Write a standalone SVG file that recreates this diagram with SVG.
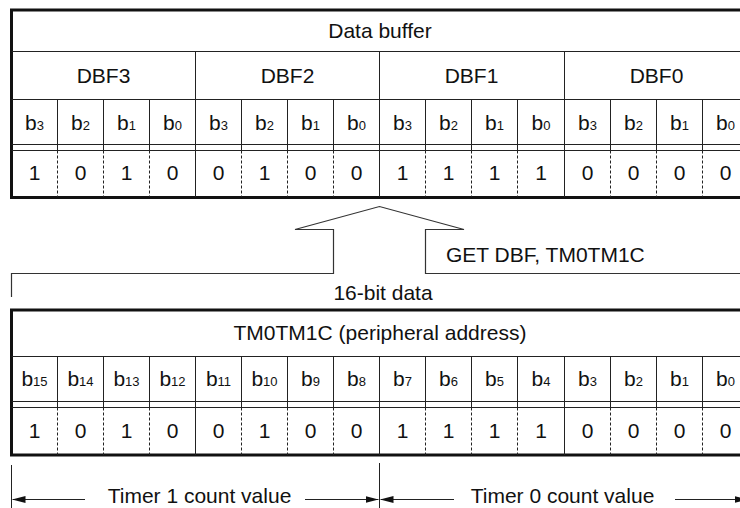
<svg xmlns="http://www.w3.org/2000/svg" width="740" height="508" viewBox="0 0 740 508">
<style>
text{font-family:"Liberation Sans",Arial,sans-serif;fill:#111;}
.lbl{font-size:21px;text-anchor:middle;}
.st{font-size:21px;}
.sub{font-size:13px;}
.frame{fill:#fff;stroke:#111;stroke-width:3;}
.ln{stroke:#222;stroke-width:1;fill:none;}
.dash{stroke:#222;stroke-width:1;stroke-dasharray:3 2;fill:none;}
.conn{stroke:#333;stroke-width:1.2;fill:none;}
</style>
<defs>
<marker id="ah" markerUnits="userSpaceOnUse" viewBox="0 0 13 7" markerWidth="13" markerHeight="7" refX="13" refY="3.5" orient="auto">
<path d="M0,0 L13,3.5 L0,7 Z" fill="#111"/>
</marker>
</defs>
<rect width="740" height="508" fill="#fff"/>

<g id="data-buffer">
<rect class="frame" x="11.5" y="10" width="737" height="187.5"/>
<path class="ln" d="M11.5,51.5H748.5M11.5,99.5H748.5M11.5,144.5H748.5M11.5,150.5H748.5"/>
<path class="ln" d="M195.5,51.5V197M379.5,51.5V197M564.5,51.5V197"/>
<path class="ln" d="M57.5,99.5V150.5M103.5,99.5V150.5M149.5,99.5V150.5M241.5,99.5V150.5M287.5,99.5V150.5M333.5,99.5V150.5M425.5,99.5V150.5M471.5,99.5V150.5M517.5,99.5V150.5M610.5,99.5V150.5M656.5,99.5V150.5M702.5,99.5V150.5"/>
<path class="dash" d="M57.5,150.5V197M103.5,150.5V197M149.5,150.5V197M241.5,150.5V197M287.5,150.5V197M333.5,150.5V197M425.5,150.5V197M471.5,150.5V197M517.5,150.5V197M610.5,150.5V197M656.5,150.5V197M702.5,150.5V197"/>
<text class="lbl" x="380" y="38">Data buffer</text>
<text class="lbl" x="103.5" y="83">DBF3</text>
<text class="lbl" x="287.5" y="83">DBF2</text>
<text class="lbl" x="471.5" y="83">DBF1</text>
<text class="lbl" x="656.5" y="83">DBF0</text>
<g class="lbl">
<text class="lbl" x="34.5" y="130">b<tspan class="sub">3</tspan></text>
<text class="lbl" x="80.5" y="130">b<tspan class="sub">2</tspan></text>
<text class="lbl" x="126.5" y="130">b<tspan class="sub">1</tspan></text>
<text class="lbl" x="172.5" y="130">b<tspan class="sub">0</tspan></text>
<text class="lbl" x="218.5" y="130">b<tspan class="sub">3</tspan></text>
<text class="lbl" x="264.5" y="130">b<tspan class="sub">2</tspan></text>
<text class="lbl" x="310.5" y="130">b<tspan class="sub">1</tspan></text>
<text class="lbl" x="356.5" y="130">b<tspan class="sub">0</tspan></text>
<text class="lbl" x="402.5" y="130">b<tspan class="sub">3</tspan></text>
<text class="lbl" x="448.5" y="130">b<tspan class="sub">2</tspan></text>
<text class="lbl" x="494.5" y="130">b<tspan class="sub">1</tspan></text>
<text class="lbl" x="541" y="130">b<tspan class="sub">0</tspan></text>
<text class="lbl" x="587.5" y="130">b<tspan class="sub">3</tspan></text>
<text class="lbl" x="633.5" y="130">b<tspan class="sub">2</tspan></text>
<text class="lbl" x="679.5" y="130">b<tspan class="sub">1</tspan></text>
<text class="lbl" x="725.5" y="130">b<tspan class="sub">0</tspan></text>
</g>
<text class="lbl" x="34.5" y="180">1</text>
<text class="lbl" x="80.5" y="180">0</text>
<text class="lbl" x="126.5" y="180">1</text>
<text class="lbl" x="172.5" y="180">0</text>
<text class="lbl" x="218.5" y="180">0</text>
<text class="lbl" x="264.5" y="180">1</text>
<text class="lbl" x="310.5" y="180">0</text>
<text class="lbl" x="356.5" y="180">0</text>
<text class="lbl" x="402.5" y="180">1</text>
<text class="lbl" x="448.5" y="180">1</text>
<text class="lbl" x="494.5" y="180">1</text>
<text class="lbl" x="541" y="180">1</text>
<text class="lbl" x="587.5" y="180">0</text>
<text class="lbl" x="633.5" y="180">0</text>
<text class="lbl" x="679.5" y="180">0</text>
<text class="lbl" x="725.5" y="180">0</text>
</g>

<g id="tm0tm1c">
<rect class="frame" x="11.5" y="310" width="737" height="145"/>
<path class="ln" d="M11.5,356.5H748.5M11.5,401.5H748.5M11.5,407.5H748.5"/>
<path class="ln" d="M195.5,356.5V455M379.5,356.5V455M564.5,356.5V455"/>
<path class="ln" d="M57.5,356.5V407.5M103.5,356.5V407.5M149.5,356.5V407.5M241.5,356.5V407.5M287.5,356.5V407.5M333.5,356.5V407.5M425.5,356.5V407.5M471.5,356.5V407.5M517.5,356.5V407.5M610.5,356.5V407.5M656.5,356.5V407.5M702.5,356.5V407.5"/>
<path class="dash" d="M57.5,407.5V455M103.5,407.5V455M149.5,407.5V455M241.5,407.5V455M287.5,407.5V455M333.5,407.5V455M425.5,407.5V455M471.5,407.5V455M517.5,407.5V455M610.5,407.5V455M656.5,407.5V455M702.5,407.5V455"/>
<text class="lbl" x="380" y="340">TM0TM1C (peripheral address)</text>
<text class="lbl" x="34.5" y="386">b<tspan class="sub">15</tspan></text>
<text class="lbl" x="80.5" y="386">b<tspan class="sub">14</tspan></text>
<text class="lbl" x="126.5" y="386">b<tspan class="sub">13</tspan></text>
<text class="lbl" x="172.5" y="386">b<tspan class="sub">12</tspan></text>
<text class="lbl" x="218.5" y="386">b<tspan class="sub">11</tspan></text>
<text class="lbl" x="264.5" y="386">b<tspan class="sub">10</tspan></text>
<text class="lbl" x="310.5" y="386">b<tspan class="sub">9</tspan></text>
<text class="lbl" x="356.5" y="386">b<tspan class="sub">8</tspan></text>
<text class="lbl" x="402.5" y="386">b<tspan class="sub">7</tspan></text>
<text class="lbl" x="448.5" y="386">b<tspan class="sub">6</tspan></text>
<text class="lbl" x="494.5" y="386">b<tspan class="sub">5</tspan></text>
<text class="lbl" x="541" y="386">b<tspan class="sub">4</tspan></text>
<text class="lbl" x="587.5" y="386">b<tspan class="sub">3</tspan></text>
<text class="lbl" x="633.5" y="386">b<tspan class="sub">2</tspan></text>
<text class="lbl" x="679.5" y="386">b<tspan class="sub">1</tspan></text>
<text class="lbl" x="725.5" y="386">b<tspan class="sub">0</tspan></text>
<text class="lbl" x="34.5" y="438">1</text>
<text class="lbl" x="80.5" y="438">0</text>
<text class="lbl" x="126.5" y="438">1</text>
<text class="lbl" x="172.5" y="438">0</text>
<text class="lbl" x="218.5" y="438">0</text>
<text class="lbl" x="264.5" y="438">1</text>
<text class="lbl" x="310.5" y="438">0</text>
<text class="lbl" x="356.5" y="438">0</text>
<text class="lbl" x="402.5" y="438">1</text>
<text class="lbl" x="448.5" y="438">1</text>
<text class="lbl" x="494.5" y="438">1</text>
<text class="lbl" x="541" y="438">1</text>
<text class="lbl" x="587.5" y="438">0</text>
<text class="lbl" x="633.5" y="438">0</text>
<text class="lbl" x="679.5" y="438">0</text>
<text class="lbl" x="725.5" y="438">0</text>
</g>

<g id="connectors">
<polyline class="conn" points="11.5,297 11.5,273.5 333.5,273.5 333.5,229.5 295,229.5 379.5,206.5 464,229.5 425.5,229.5 425.5,273.5 748,273.5"/>
<path class="ln" d="M11.5,465V508M379.5,463V508"/>
<line class="ln" x1="85" y1="499.5" x2="12.5" y2="499.5" marker-end="url(#ah)"/>
<line class="ln" x1="305" y1="499.5" x2="378.5" y2="499.5" marker-end="url(#ah)"/>
<line class="ln" x1="454" y1="499.5" x2="380.5" y2="499.5" marker-end="url(#ah)"/>
<line class="ln" x1="675" y1="499.5" x2="747.5" y2="499.5" marker-end="url(#ah)"/>
</g>

<g id="labels">
<text class="st" x="446" y="262">GET DBF, TM0TM1C</text>
<text class="lbl" x="383" y="300">16-bit data</text>
<text class="lbl" x="199.5" y="503">Timer 1 count value</text>
<text class="lbl" x="562.5" y="503">Timer 0 count value</text>
</g>
</svg>
